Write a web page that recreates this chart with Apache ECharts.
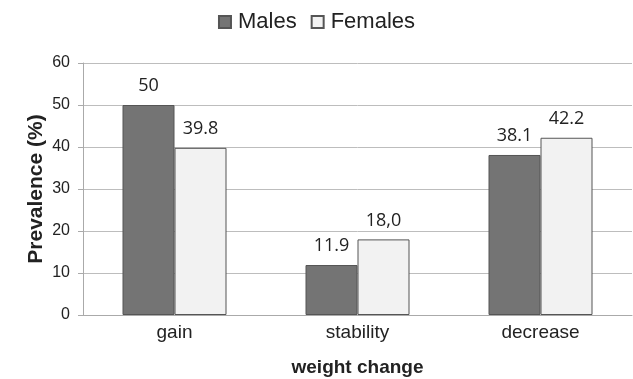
<!DOCTYPE html>
<html>
<head>
<meta charset="utf-8">
<script src="https://cdn.jsdelivr.net/npm/echarts@6/dist/echarts.min.js"></script>
<style>
  html, body { margin: 0; padding: 0; background: #fff; }
  #chart { width: 633px; height: 379px; }
</style>
</head>
<body>
<div id="chart"></div>
<script>
// chart data
var categories = ['gain', 'stability', 'decrease'];
var males = [50, 11.9, 38.1];
var females = [39.8, 18.0, 42.2];
// label texts as printed in the figure (note the comma in 18,0)
var maleLabels = ['50', '11.9', '38.1'];
var femaleLabels = ['39.8', '18,0', '42.2'];

var myChart = echarts.init(document.getElementById('chart'));

var labelStyle = {
  show: true,
  position: 'top',
  distance: 10,
  fontFamily: 'Open Sans',
  fontSize: 18,
  color: '#222'
};

myChart.setOption({
  animation: false,
  legend: {
    top: 6,
    left: 'center',
    itemWidth: 12,
    itemHeight: 12,
    itemGap: 14,
    icon: 'rect',
    textStyle: { fontFamily: 'Liberation Sans', fontSize: 22, color: '#222', padding: [0, 0, 0, 2] },
    data: ['Males', 'Females']
  },
  grid: { left: 83, right: 1, top: 63, bottom: 64, outerBoundsMode: 'none', containLabel: false },
  xAxis: {
    type: 'category',
    data: categories,
    name: 'weight change',
    nameLocation: 'middle',
    nameGap: 43,
    nameMoveOverlap: false,
    nameTextStyle: { fontFamily: 'Liberation Sans', fontSize: 19, fontWeight: 'bold', color: '#222' },
    axisLine: { lineStyle: { color: '#aaa', width: 1 } },
    axisTick: { show: false },
    axisLabel: { fontFamily: 'Liberation Sans', fontSize: 19, color: '#222', margin: 8 }
  },
  yAxis: {
    type: 'value',
    min: 0,
    max: 60,
    interval: 10,
    name: 'Prevalence (%)',
    nameLocation: 'middle',
    nameGap: 36,
    nameMoveOverlap: false,
    nameTextStyle: { fontFamily: 'Liberation Sans', fontSize: 21, fontWeight: 'bold', color: '#222' },
    axisLine: { show: true, lineStyle: { color: '#aaa', width: 1 } },
    axisTick: { show: true, length: 5, lineStyle: { color: '#aaa' } },
    axisLabel: { fontFamily: 'Liberation Sans', fontSize: 16, color: '#222', margin: 13 },
    splitLine: { lineStyle: { color: '#bdbdbd', width: 1 } }
  },
  series: [
    {
      name: 'Males',
      type: 'bar',
      data: males,
      barWidth: 52,
      barGap: '0%',
      itemStyle: { color: '#747474', borderColor: '#555', borderWidth: 1 },
      label: Object.assign({}, labelStyle, {
        formatter: function (p) { return maleLabels[p.dataIndex]; }
      })
    },
    {
      name: 'Females',
      type: 'bar',
      data: females,
      barWidth: 52,
      barGap: '0%',
      itemStyle: { color: '#f2f2f2', borderColor: '#555', borderWidth: 1 },
      label: Object.assign({}, labelStyle, {
        formatter: function (p) { return femaleLabels[p.dataIndex]; }
      })
    }
  ]
});
</script>
</body>
</html>
